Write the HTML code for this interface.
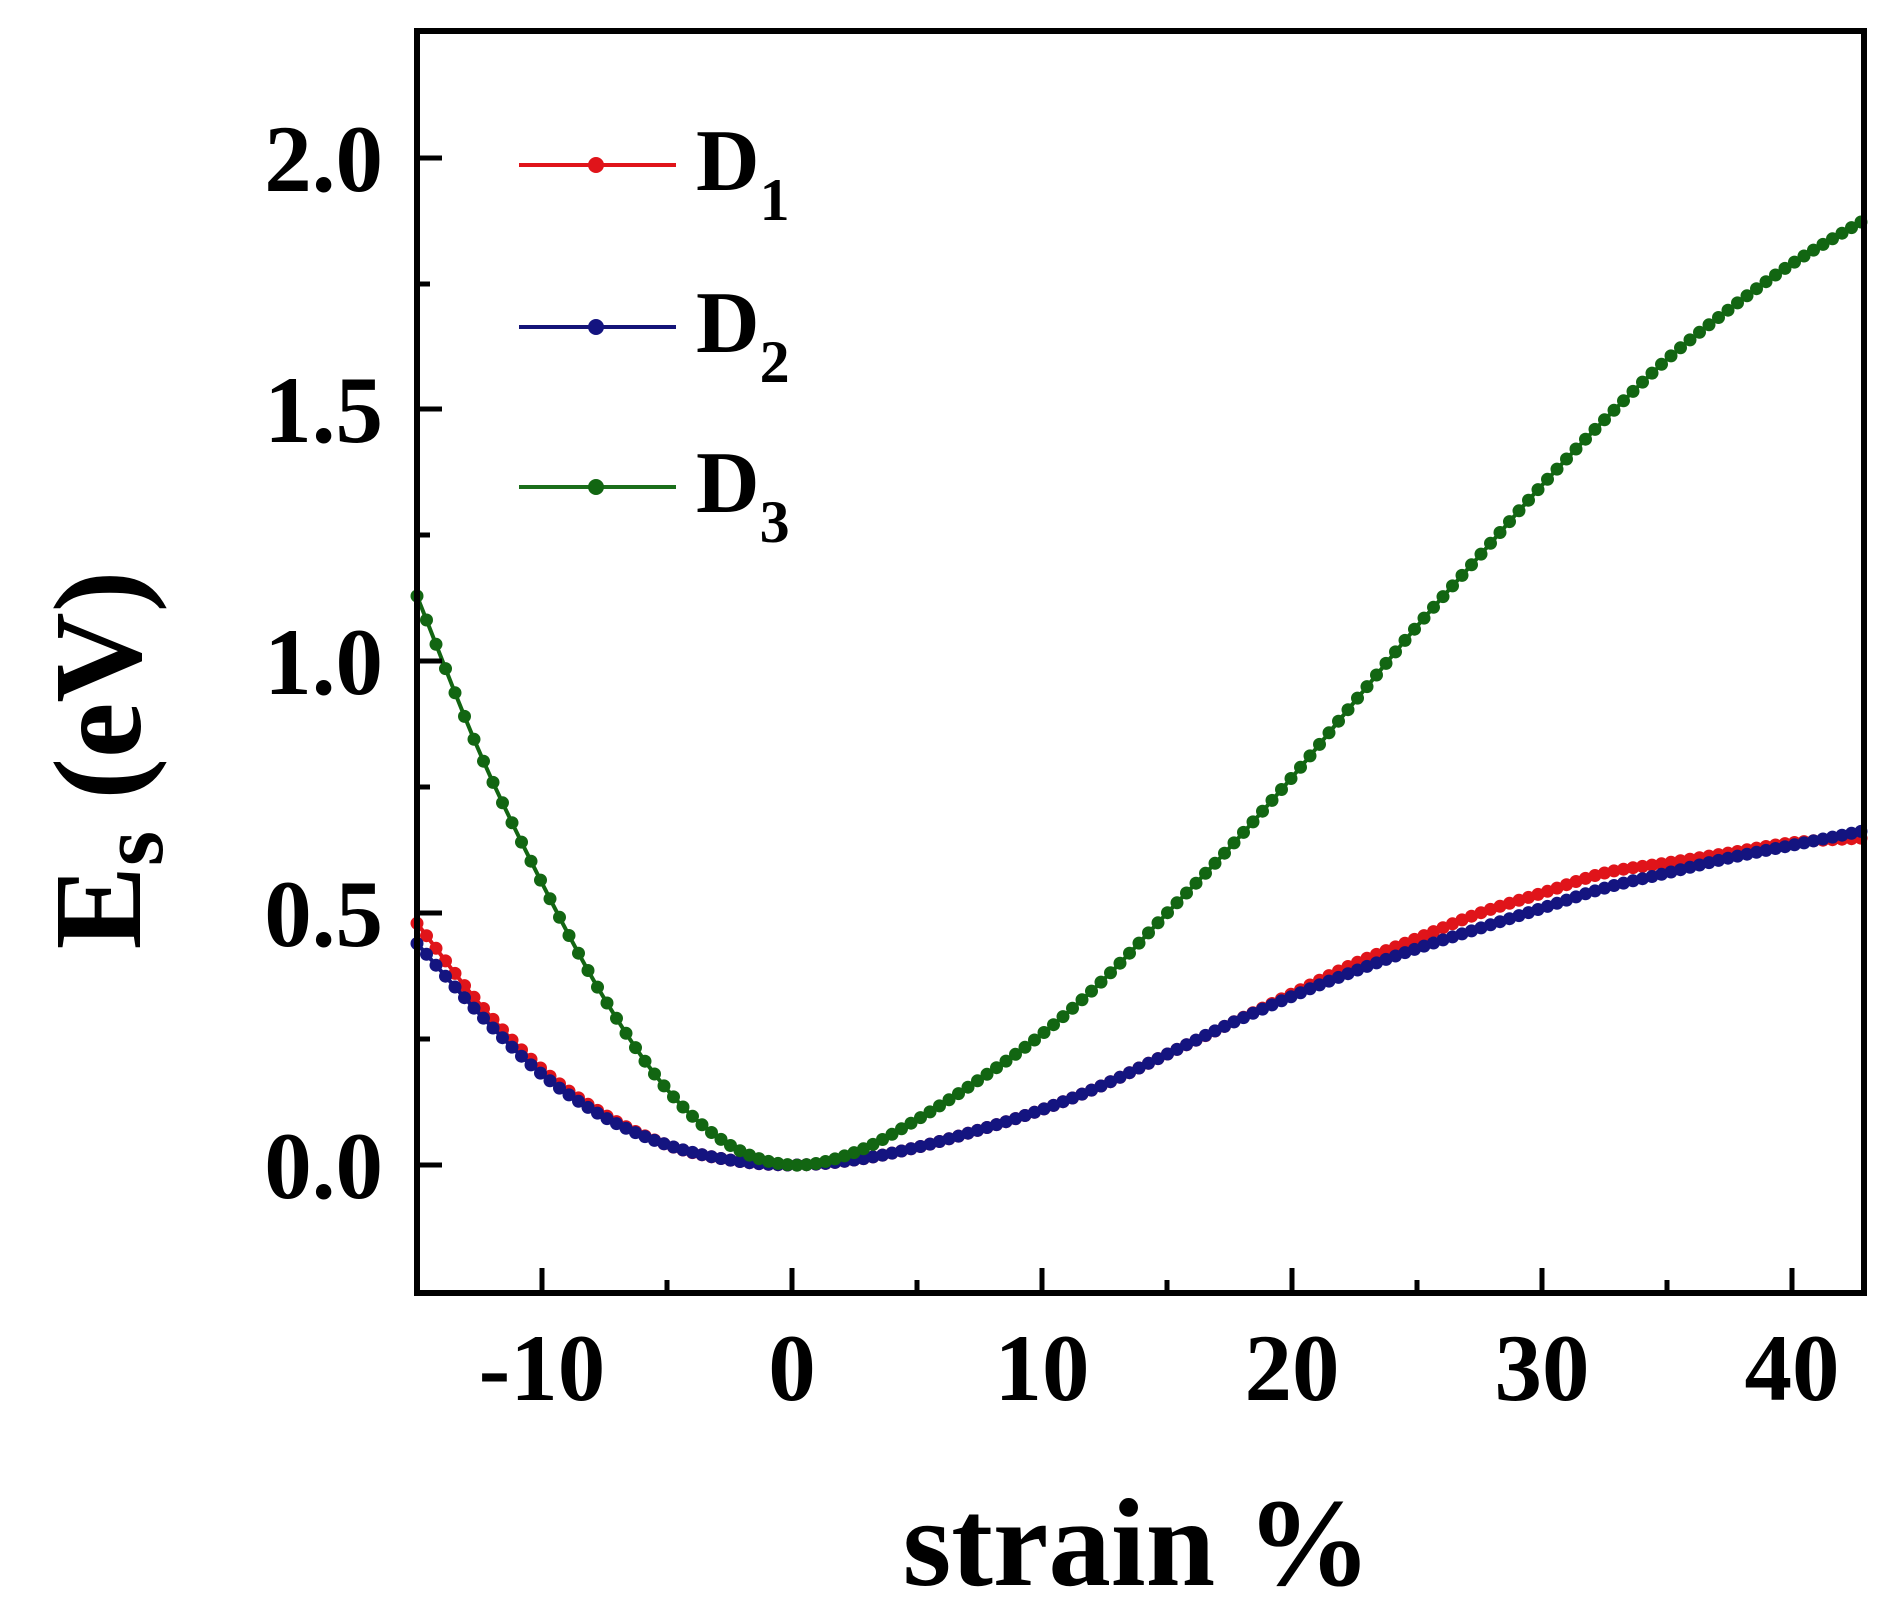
<!DOCTYPE html>
<html><head><meta charset="utf-8"><style>
html,body{margin:0;padding:0;background:#fff;}
svg{display:block;}
text{font-family:"Liberation Serif",serif;font-weight:bold;fill:#000;}
</style></head><body>
<svg id="s" width="1897" height="1618" viewBox="0 0 1897 1618" xmlns="http://www.w3.org/2000/svg">
<g id="curves"></g>
<rect x="417" y="31" width="1447" height="1262" fill="none" stroke="#000" stroke-width="6"/>
<g stroke="#000" stroke-width="5">
<line x1="542" y1="1293" x2="542" y2="1268"/><line x1="667" y1="1293" x2="667" y2="1280"/>
<line x1="792" y1="1293" x2="792" y2="1268"/><line x1="917" y1="1293" x2="917" y2="1280"/>
<line x1="1042" y1="1293" x2="1042" y2="1268"/><line x1="1167" y1="1293" x2="1167" y2="1280"/>
<line x1="1292" y1="1293" x2="1292" y2="1268"/><line x1="1417" y1="1293" x2="1417" y2="1280"/>
<line x1="1542" y1="1293" x2="1542" y2="1268"/><line x1="1667" y1="1293" x2="1667" y2="1280"/>
<line x1="1792" y1="1293" x2="1792" y2="1268"/>
<line x1="417" y1="1165" x2="442" y2="1165"/><line x1="417" y1="1039" x2="430" y2="1039"/>
<line x1="417" y1="913" x2="442" y2="913"/><line x1="417" y1="787" x2="430" y2="787"/>
<line x1="417" y1="661" x2="442" y2="661"/><line x1="417" y1="535" x2="430" y2="535"/>
<line x1="417" y1="409" x2="442" y2="409"/><line x1="417" y1="284" x2="430" y2="284"/>
<line x1="417" y1="158" x2="442" y2="158"/>
</g>
<g font-size="95" text-anchor="middle">
<text x="542" y="1400">-10</text><text x="792" y="1400">0</text><text x="1042" y="1400">10</text>
<text x="1292" y="1400">20</text><text x="1542" y="1400">30</text><text x="1792" y="1400">40</text>
</g>
<g font-size="95" text-anchor="end">
<text x="383" y="1198">0.0</text><text x="383" y="946">0.5</text><text x="383" y="694">1.0</text>
<text x="383" y="442">1.5</text><text x="383" y="191">2.0</text>
</g>
<text x="1137" y="1585" font-size="125" text-anchor="middle">strain %</text>
<text transform="translate(140,760) rotate(-90)" font-size="125" text-anchor="middle">E<tspan font-size="90" dy="22">s</tspan><tspan dy="-22"> (eV)</tspan></text>
<g>
<line x1="519" y1="165" x2="676" y2="165" stroke="#e0141a" stroke-width="4"/><circle cx="596" cy="165" r="8" fill="#e0141a"/>
<line x1="519" y1="327" x2="676" y2="327" stroke="#141478" stroke-width="4"/><circle cx="596" cy="327" r="8" fill="#141480"/>
<line x1="519" y1="487" x2="676" y2="487" stroke="#1a6e1a" stroke-width="4"/><circle cx="596" cy="487" r="8" fill="#126612"/>
<text x="696" y="190" font-size="88">D<tspan font-size="60" dy="30">1</tspan></text>
<text x="696" y="352" font-size="88">D<tspan font-size="60" dy="30">2</tspan></text>
<text x="696" y="512" font-size="88">D<tspan font-size="60" dy="30">3</tspan></text>
</g>
</svg>
<script>
(function(){
function X(v){return 792+25*v;}
function Y(v){return 1165-503.5*v;}
function interp(pts,x){
 for(var i=0;i<pts.length-1;i++){
  if(x<=pts[i+1][0]||i==pts.length-2){
   var p0=pts[Math.max(i-1,0)],p1=pts[i],p2=pts[i+1],p3=pts[Math.min(i+2,pts.length-1)];
   var t=(x-p1[0])/(p2[0]-p1[0]);
   var m1=(p2[1]-p0[1])/(p2[0]-p0[0])*(p2[0]-p1[0]);
   var m2=(p3[1]-p1[1])/(p3[0]-p1[0])*(p2[0]-p1[0]);
   var t2=t*t,t3=t2*t;
   return (2*t3-3*t2+1)*p1[1]+(t3-2*t2+t)*m1+(-2*t3+3*t2)*p2[1]+(t3-t2)*m2;
  }}
}
var D3=[[-15,1.13],[-12.5,0.82],[-10,0.56],[-7.5,0.33],[-5,0.15],[-2.5,0.04],[0,0],[2.5,0.025],[5,0.09],[7.5,0.17],[10,0.26],[12.5,0.37],[15,0.5],[17.5,0.63],[20,0.77],[22.5,0.92],[25,1.07],[27.5,1.21],[30,1.35],[32.5,1.48],[35,1.6],[37.5,1.7],[40,1.79],[43,1.88]];
var D1=[[-15,0.48],[-12.5,0.32],[-10,0.19],[-7.5,0.1],[-5,0.04],[-2.5,0.01],[0,0],[2.5,0.01],[5,0.035],[7.5,0.07],[10,0.11],[12.5,0.16],[15,0.22],[17.5,0.28],[20,0.34],[22.5,0.4],[25,0.45],[27.5,0.5],[30,0.54],[32.5,0.58],[35,0.6],[37.5,0.62],[40,0.64],[43,0.65]];
var D2=[[-15,0.44],[-12.5,0.3],[-10,0.18],[-7.5,0.095],[-5,0.04],[-2.5,0.01],[0,0],[2.5,0.01],[5,0.035],[7.5,0.07],[10,0.11],[12.5,0.16],[15,0.22],[17.5,0.28],[20,0.335],[22.5,0.385],[25,0.43],[27.5,0.47],[30,0.51],[32.5,0.55],[35,0.58],[37.5,0.61],[40,0.635],[43,0.665]];
var g=document.getElementById('curves'),h='';
[[D1,'#e0141a'],[D2,'#141480'],[D3,'#126612']].forEach(function(s){
 var d='',c='';
 for(var x=-15;x<=42.9;x+=0.38){var y=interp(s[0],x);d+=(d?'L':'M')+X(x).toFixed(1)+' '+Y(y).toFixed(1);c+='<circle cx="'+X(x).toFixed(1)+'" cy="'+Y(y).toFixed(1)+'" r="6.5" fill="'+s[1]+'"/>';}
 h+='<path d="'+d+'" fill="none" stroke="'+s[1]+'" stroke-width="4"/>'+c;
});
g.innerHTML=h;
})();
</script>
</body></html>
